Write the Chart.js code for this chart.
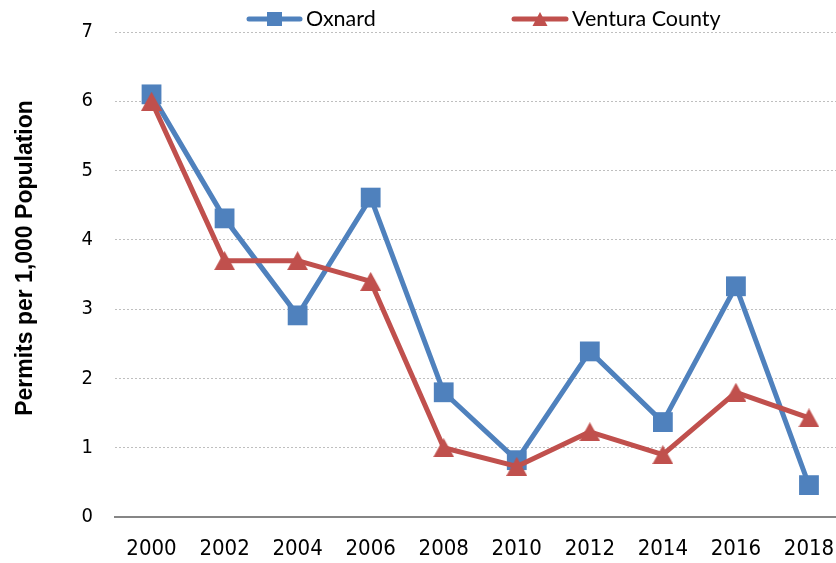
<!DOCTYPE html>
<html><head><meta charset="utf-8">
<script src="https://cdn.jsdelivr.net/npm/chart.js@4.4.1/dist/chart.umd.min.js"></script>
<style>html,body{margin:0;padding:0;background:#fff}#wrap{width:836px;height:563px}</style>
</head><body><div id="wrap"><canvas id="c" width="836" height="563"></canvas></div>
<script>
const years = [2000, 2002, 2004, 2006, 2008, 2010, 2012, 2014, 2016, 2018];
const oxnard = [6.1, 4.31, 2.91, 4.61, 1.8, 0.82, 2.39, 1.37, 3.33, 0.46];
const ventura = [6.0, 3.7, 3.7, 3.4, 1.0, 0.73, 1.23, 0.9, 1.8, 1.43];
const seriesNames = ['Oxnard', 'Ventura County'];
const yTicks = [0, 1, 2, 3, 4, 5, 6, 7];
const yTitle = 'Permits per 1,000 Population';

const BLUE = '#4F81BD', RED = '#C0504D';
const NARROW = "'Liberation Sans Narrow', 'Arial Narrow', 'DejaVu Sans Condensed', 'Liberation Sans', sans-serif";

function triCanvas(w, h, color) {
  const c = document.createElement('canvas');
  c.width = w; c.height = h;
  const g = c.getContext('2d');
  g.fillStyle = color;
  g.beginPath(); g.moveTo(w / 2, 0); g.lineTo(w, h); g.lineTo(0, h); g.closePath(); g.fill();
  return c;
}

// plot area runs to the right edge of the canvas, as in the reference
const stretchPlugin = {
  id: 'stretchRight',
  afterLayout(chart) {
    const R = chart.width;
    const x = chart.scales.x;
    chart.chartArea.right = R;
    chart.chartArea.width = R - chart.chartArea.left;
    x.right = R;
    x.width = R - x.left;
    x.configure();
  }
};

const legendPlugin = {
  id: 'customLegend',
  afterDraw(chart) {
    const ctx = chart.ctx;
    const items = [
      {x0: 249, x1: 300, tx: 306, color: BLUE, marker: 'rect'},
      {x0: 514, x1: 566, tx: 572, color: RED, marker: 'tri'}
    ];
    const y = 19;
    items.forEach((it, i) => {
      ctx.save();
      ctx.strokeStyle = it.color; ctx.fillStyle = it.color;
      ctx.lineWidth = 5; ctx.lineCap = 'round';
      ctx.beginPath(); ctx.moveTo(it.x0, y); ctx.lineTo(it.x1, y); ctx.stroke();
      const cx = (it.x0 + it.x1) / 2;
      if (it.marker === 'rect') {
        ctx.fillRect(cx - 7.5, y - 7, 15, 14);
      } else {
        ctx.beginPath(); ctx.moveTo(cx, y - 7); ctx.lineTo(cx + 7.5, y + 7); ctx.lineTo(cx - 7.5, y + 7); ctx.closePath(); ctx.fill();
      }
      ctx.fillStyle = '#000';
      ctx.font = '21.5px Lato';
      ctx.textBaseline = 'middle';
      ctx.textAlign = 'left';
      ctx.fillText(chart.data.datasets[i].label, it.tx, y);
      ctx.restore();
    });
    // y-axis title
    ctx.save();
    ctx.translate(26, 258);
    ctx.rotate(-Math.PI / 2);
    ctx.fillStyle = '#000';
    ctx.font = "bold 23px 'Liberation Sans', Arial, sans-serif";
    ctx.textAlign = 'center';
    ctx.textBaseline = 'middle';
    ctx.fillText(yTitle, 0, 0);
    ctx.restore();
  }
};

new Chart(document.getElementById('c'), {
  type: 'line',
  data: {
    datasets: [
      {
        label: seriesNames[0],
        data: years.map((yr, i) => ({x: yr, y: oxnard[i]})),
        borderColor: BLUE, backgroundColor: BLUE,
        borderWidth: 5, tension: 0,
        borderJoinStyle: 'round', borderCapStyle: 'round',
        pointStyle: 'rect', pointRadius: 14, pointBorderWidth: 0,
        pointBackgroundColor: BLUE, pointBorderColor: BLUE,
        order: 1
      },
      {
        label: seriesNames[1],
        data: years.map((yr, i) => ({x: yr, y: ventura[i]})),
        borderColor: RED, backgroundColor: RED,
        borderWidth: 5, tension: 0,
        borderJoinStyle: 'round', borderCapStyle: 'round',
        pointStyle: triCanvas(21, 19, RED), pointRadius: 11,
        order: 0
      }
    ]
  },
  options: {
    responsive: false,
    animation: false,
    devicePixelRatio: 1,
    layout: {padding: {top: 32, right: 0, bottom: 0, left: 0}},
    plugins: {legend: {display: false}, tooltip: {enabled: false}},
    scales: {
      x: {
        type: 'linear', min: 1999, max: 2018.74,
        afterBuildTicks: s => { s.ticks = years.map(v => ({value: v})); },
        afterFit: s => { s.height = 46; s.paddingLeft = 0; s.paddingRight = 0; },
        grid: {display: false, drawTicks: false},
        border: {display: true, color: '#868686', width: 2},
        ticks: {
          callback: v => String(v), color: '#000', padding: 19,
          font: {family: NARROW, size: 22}, maxRotation: 0, autoSkip: false
        }
      },
      y: {
        min: 0, max: 7,
        afterBuildTicks: s => { s.ticks = yTicks.map(v => ({value: v})); },
        afterFit: s => { s.width = 115; s.paddingTop = 0; s.paddingBottom = 0; },
        grid: {
          drawTicks: false, lineWidth: 1,
          color: c => (c.tick && c.tick.value === 0) ? 'rgba(0,0,0,0)' : '#BFBFBF'
        },
        border: {display: false, dash: [2, 2]},
        ticks: {color: '#000', padding: 22, font: {family: NARROW, size: 20}},
        title: {display: false}
      }
    }
  },
  plugins: [stretchPlugin, legendPlugin]
});
</script></body></html>
